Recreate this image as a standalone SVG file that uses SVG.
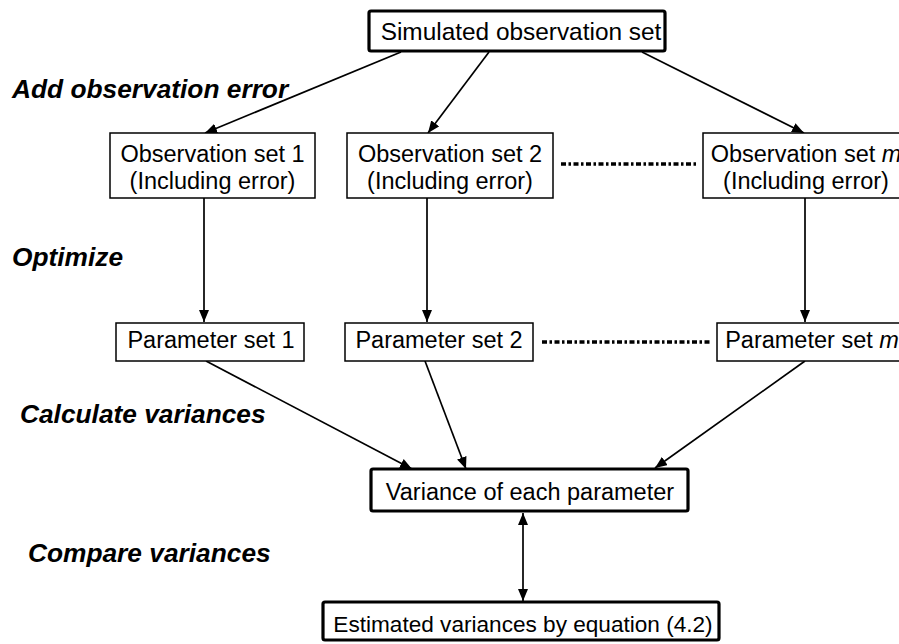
<svg xmlns="http://www.w3.org/2000/svg" width="899" height="644" viewBox="0 0 899 644">
<defs>
<style>
.box{fill:#fff;stroke:#000;stroke-width:1.5}
.thick{fill:#fff;stroke:#000;stroke-width:3.2}
.t{font-family:"Liberation Sans",Arial,sans-serif;font-size:23.5px;fill:#000;text-anchor:middle}
.lab{font-family:"Liberation Sans",Arial,sans-serif;font-size:26.3px;font-weight:bold;font-style:italic;fill:#000}
.c{stroke:#000;stroke-width:1.7;fill:none}
.dot{stroke:#000;stroke-width:3.5;fill:none;stroke-dasharray:5 2.5 2.5 2.5}
</style>
<marker id="ah" viewBox="0 0 12 10" refX="12" refY="5" markerWidth="12" markerHeight="10" markerUnits="userSpaceOnUse" orient="auto-start-reverse">
<path d="M0,0 L12,5 L0,10 z" fill="#000"/>
</marker>
</defs>
<rect width="899" height="644" fill="#fff"/>
<g id="labels">
<text class="lab" x="12" y="98">Add observation error</text>
<text class="lab" x="12" y="266">Optimize</text>
<text class="lab" x="20" y="423">Calculate variances</text>
<text class="lab" x="28" y="562">Compare variances</text>
</g>
<g id="connectors">
<line class="c" x1="401" y1="52" x2="205" y2="133" marker-end="url(#ah)"/>
<line class="c" x1="489" y1="52" x2="428" y2="133" marker-end="url(#ah)"/>
<line class="c" x1="642" y1="52" x2="804" y2="133" marker-end="url(#ah)"/>
<line class="c" x1="204" y1="198" x2="204" y2="322" marker-end="url(#ah)"/>
<line class="c" x1="427" y1="198" x2="427" y2="322" marker-end="url(#ah)"/>
<line class="c" x1="805" y1="198" x2="805" y2="322" marker-end="url(#ah)"/>
<line class="c" x1="206" y1="361" x2="412" y2="469" marker-end="url(#ah)"/>
<line class="c" x1="425" y1="361" x2="466" y2="469" marker-end="url(#ah)"/>
<line class="c" x1="805" y1="361" x2="655" y2="468" marker-end="url(#ah)"/>
<line class="c" x1="523" y1="513" x2="523" y2="601" marker-start="url(#ah)" marker-end="url(#ah)"/>
<line class="dot" x1="561" y1="164" x2="697" y2="164"/>
<line class="dot" x1="542" y1="342" x2="711" y2="342"/>
</g>
<g id="sim">
<rect class="thick" x="369" y="11" width="296" height="40" rx="2"/>
<text class="t" x="521" y="40" style="font-size:24.4px">Simulated observation set</text>
</g>
<g id="obs1">
<rect class="box" x="110" y="133" width="205" height="65"/>
<text class="t" x="212.5" y="162">Observation set 1</text>
<text class="t" x="212.5" y="189">(Including error)</text>
</g>
<g id="obs2">
<rect class="box" x="347" y="133" width="206" height="65"/>
<text class="t" x="450" y="162">Observation set 2</text>
<text class="t" x="450" y="189">(Including error)</text>
</g>
<g id="obsm">
<rect class="box" x="703" y="133" width="206" height="65"/>
<text class="t" x="806" y="162">Observation set <tspan font-style="italic">m</tspan></text>
<text class="t" x="806" y="189">(Including error)</text>
</g>
<g id="par1">
<rect class="box" x="116" y="323" width="188" height="38"/>
<text class="t" x="211" y="348">Parameter set 1</text>
</g>
<g id="par2">
<rect class="box" x="345" y="323" width="188" height="38"/>
<text class="t" x="439" y="348">Parameter set 2</text>
</g>
<g id="parm">
<rect class="box" x="717" y="323" width="190" height="38"/>
<text class="t" x="812" y="348">Parameter set <tspan font-style="italic">m</tspan></text>
</g>
<g id="variance">
<rect class="thick" x="371" y="469" width="317" height="42" rx="2"/>
<text class="t" x="530" y="500">Variance of each parameter</text>
</g>
<g id="estimated">
<rect class="thick" x="323" y="602" width="396" height="38" rx="2"/>
<text class="t" x="523" y="632" style="font-size:22.6px">Estimated variances by equation (4.2)</text>
</g>
</svg>
